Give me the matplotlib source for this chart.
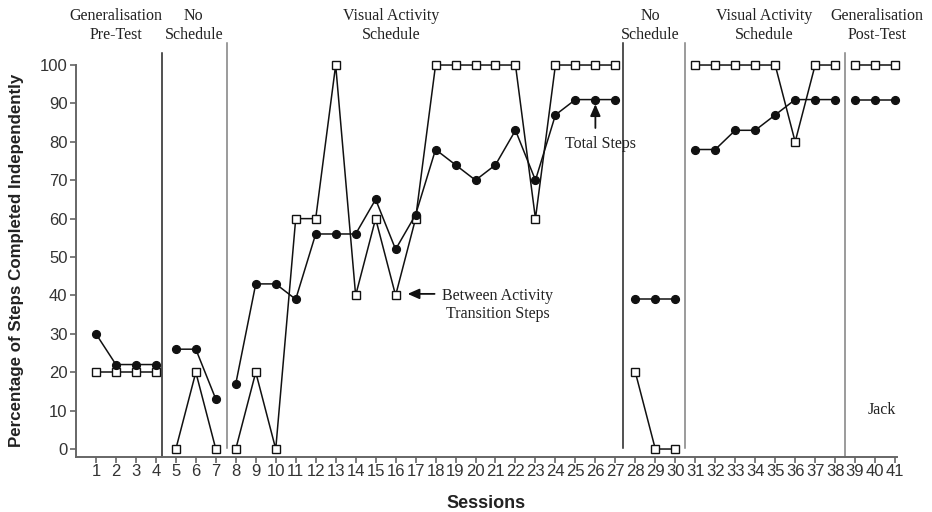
import numpy as np
import matplotlib.pyplot as plt

# sessions grouped by phase
phases = [
    [1, 2, 3, 4],
    [5, 6, 7],
    list(range(8, 28)),
    [28, 29, 30],
    list(range(31, 39)),
    [39, 40, 41],
]

total_steps = [30, 22, 22, 22,
               26, 26, 13,
               17, 43, 43, 39, 56, 56, 56, 65, 52, 61, 78, 74, 70, 74, 83, 70, 87, 91, 91, 91,
               39, 39, 39,
               78, 78, 83, 83, 87, 91, 91, 91,
               91, 91, 91]

between_steps = [20, 20, 20, 20,
                 0, 20, 0,
                 0, 20, 0, 60, 60, 100, 40, 60, 40, 60, 100, 100, 100, 100, 100, 60, 100, 100, 100, 100,
                 20, 0, 0,
                 100, 100, 100, 100, 100, 80, 100, 100,
                 100, 100, 100]

phase_names = ["Generalisation\nPre-Test", "No\nSchedule", "Visual Activity\nSchedule",
               "No\nSchedule", "Visual Activity\nSchedule", "Generalisation\nPost-Test"]
phase_label_x = [2.0, 5.9, 15.8, 28.75, 34.45, 40.1]

# phase change lines: x, bottom, top, colour
change_x = [4.3, 7.57, 27.37, 30.5, 38.5]
change_bottom = [-2, 0.3, 0.3, 0.3, -2]
change_top = [103.1, 105.7, 105.7, 105.7, 103.1]
change_col = ["#222222", "#808080", "#222222", "#808080", "#808080"]

serif = "Liberation Serif"
sans = "Liberation Sans"

fig = plt.figure(figsize=(9.32, 5.12), dpi=100)
ax = fig.add_axes([0.0815, 0.108, 0.881, 0.765])

start = 0
for ph in phases:
    n = len(ph)
    ax.plot(ph, between_steps[start:start + n], color="#111111", lw=1.1,
            marker="s", ms=5.5, mfc="white", mec="#111111", mew=1.0, clip_on=False, zorder=3)
    ax.plot(ph, total_steps[start:start + n], color="#111111", lw=1.1,
            marker="o", ms=5.6, mfc="#111111", mec="#111111", clip_on=False, zorder=4)
    start += n

for x, y0, y1, c in zip(change_x, change_bottom, change_top, change_col):
    ax.plot([x, x], [y0, y1], color=c, lw=1.1, clip_on=False, zorder=2)

for x, name in zip(phase_label_x, phase_names):
    ax.text(x, 110.3, name, ha="center", va="center", fontsize=11.5,
            family=serif, color="#222222", linespacing=1.2)

ax.annotate("", xy=(26, 89.8), xytext=(26, 83.6),
            arrowprops=dict(arrowstyle="-|>,head_length=0.5,head_width=0.22",
                            color="#111111", lw=1.3, mutation_scale=14, shrinkA=0, shrinkB=0))
ax.text(26.25, 79.4, "Total Steps", ha="center", va="center", fontsize=11.5,
        family=serif, color="#222222")

ax.annotate("", xy=(16.6, 40.4), xytext=(17.95, 40.4),
            arrowprops=dict(arrowstyle="-|>,head_length=0.5,head_width=0.22",
                            color="#111111", lw=1.3, mutation_scale=14, shrinkA=0, shrinkB=0))
ax.text(21.1, 37.5, "Between Activity\nTransition Steps", ha="center", va="center",
        multialignment="center", fontsize=11.5, family=serif, color="#222222")

ax.text(40.35, 10.2, "Jack", ha="center", va="center", fontsize=11.5,
        family=serif, color="#222222")

ax.set_xlim(0, 41.1)
ax.set_ylim(-2, 100)
ax.set_xticks(range(1, 42))
ax.set_yticks(range(0, 101, 10))
for s in ["top", "right"]:
    ax.spines[s].set_visible(False)
for s in ["left", "bottom"]:
    ax.spines[s].set_color("#666666")
    ax.spines[s].set_linewidth(1.4)
ax.tick_params(colors="#666666", labelcolor="#333333", length=4, width=1.2, labelsize=12)
ax.tick_params(axis="x", pad=1.5)
ax.tick_params(axis="y", pad=2)
for lab in ax.get_xticklabels() + ax.get_yticklabels():
    lab.set_family(sans)

fig.text(17 / 932, 1 - 260 / 512, "Percentage of Steps Completed Independently",
         rotation=90, ha="center", va="center", fontsize=12.2, fontweight="bold",
         family=sans, color="#222222")
fig.text(486.5 / 932, 1 - 503 / 512, "Sessions", ha="center", va="center",
         fontsize=13, fontweight="bold", family=sans, color="#222222")

fig.savefig("out.png", dpi=100)
